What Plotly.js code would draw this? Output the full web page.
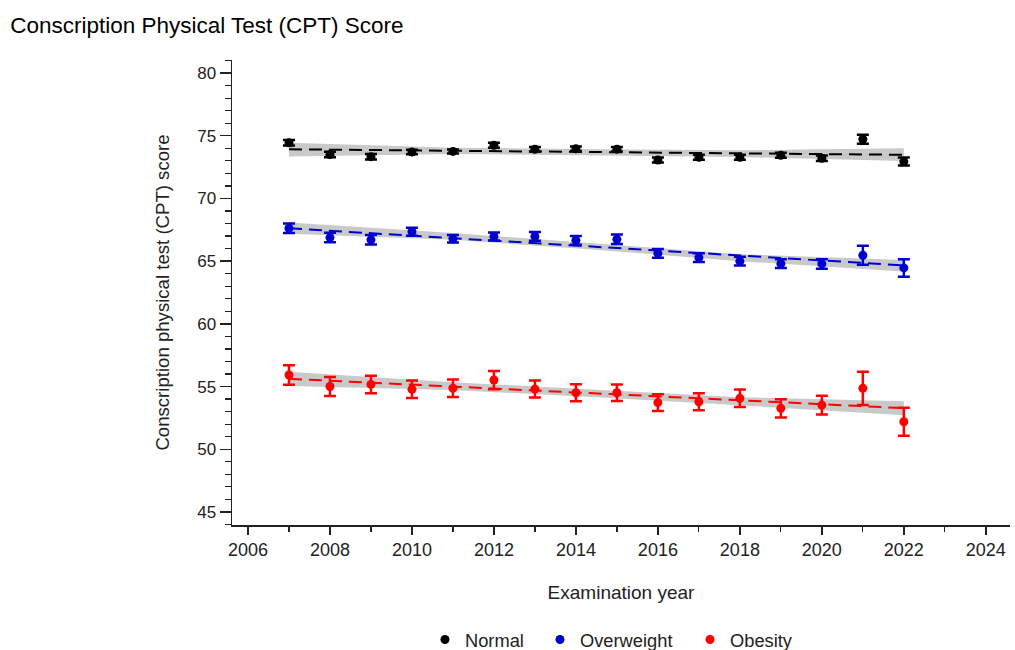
<!DOCTYPE html>
<html>
<head>
<meta charset="utf-8">
<script src="https://cdn.plot.ly/plotly-3.0.1.min.js"></script>
<style>html,body{margin:0;padding:0;background:#fff;}#chart{width:1015px;height:650px;}</style>
</head>
<body>
<div id="chart"></div>
<script>
// Examination years
const years = [2007,2008,2009,2010,2011,2012,2013,2014,2015,2016,2017,2018,2019,2020,2021,2022];

// Mean CPT scores by BMI group
const normalMean     = [74.44,73.50,73.33,73.70,73.75,74.24,73.92,73.96,73.93,73.06,73.28,73.28,73.44,73.20,74.72,72.94];
const normalErr      = [0.22,0.22,0.22,0.18,0.16,0.2,0.18,0.18,0.18,0.2,0.2,0.2,0.2,0.22,0.35,0.32];
const overweightMean = [67.62,66.88,66.70,67.35,66.78,66.97,66.97,66.66,66.74,65.62,65.28,65.00,64.80,64.78,65.47,64.46];
const overweightErr  = [0.38,0.38,0.38,0.32,0.3,0.32,0.35,0.35,0.38,0.35,0.35,0.35,0.35,0.38,0.75,0.7];
const obesityMean    = [55.92,55.00,55.17,54.78,54.86,55.52,54.80,54.51,54.51,53.72,53.79,54.06,53.26,53.52,54.86,52.19];
const obesityErr     = [0.77,0.76,0.7,0.7,0.7,0.73,0.68,0.68,0.66,0.67,0.67,0.7,0.72,0.74,1.33,1.12];

// Linear trend endpoints
const trendYears     = [2007, 2022];
const normalTrend    = [73.92, 73.48];
const overweightTrend= [67.62, 64.66];
const obesityTrend   = [55.62, 53.28];

// 95% CI band read at selected years
const bandYears      = [2007, 2011, 2014.5, 2018, 2022];
const normalUpper    = [74.45, 74.05, 73.92, 73.85, 74.0];
const normalLower    = [73.35, 73.55, 73.42, 73.3, 72.98];
const overweightUpper= [68.08, 67.25, 66.4, 65.55, 65.1];
const overweightLower= [67.18, 66.7, 65.9, 65.0, 64.18];
const obesityUpper   = [56.18, 55.35, 54.75, 54.15, 53.82];
const obesityLower   = [55.05, 54.72, 54.15, 53.5, 52.72];

const seriesNames  = ['Normal','Overweight','Obesity'];
const seriesColors = ['#000000','#0000cc','#ff0000'];

const groups = [
  {mean: normalMean, err: normalErr, trend: normalTrend, up: normalUpper, lo: normalLower},
  {mean: overweightMean, err: overweightErr, trend: overweightTrend, up: overweightUpper, lo: overweightLower},
  {mean: obesityMean, err: obesityErr, trend: obesityTrend, up: obesityUpper, lo: obesityLower}
];

const sans = '"Liberation Sans", Arial, sans-serif';
const legendIds = ['legend', 'legend2', 'legend3'];
const legendLeft = [425, 540, 690];

const traces = [];
groups.forEach((g, i) => {
  traces.push({
    x: bandYears.concat(bandYears.slice().reverse()),
    y: g.up.concat(g.lo.slice().reverse()),
    type: 'scatter', mode: 'lines', fill: 'toself',
    fillcolor: 'rgba(198,198,198,0.95)', line: {width: 0, color: 'rgba(0,0,0,0)'},
    showlegend: false, hoverinfo: 'skip'
  });
});
groups.forEach((g, i) => {
  traces.push({
    x: trendYears, y: g.trend, type: 'scatter', mode: 'lines',
    line: {color: seriesColors[i], width: 2, dash: '13px,7px'},
    showlegend: false, hoverinfo: 'skip'
  });
});
groups.forEach((g, i) => {
  traces.push({
    x: years, y: g.mean, type: 'scatter', mode: 'markers', name: seriesNames[i],
    legend: legendIds[i],
    marker: {color: seriesColors[i], size: 9},
    error_y: {type: 'data', array: g.err, visible: true, color: seriesColors[i], thickness: 2.5, width: 6}
  });
});

const layout = {
  width: 1015, height: 650,
  margin: {l: 232, r: 5, t: 60, b: 125},
  paper_bgcolor: '#fff', plot_bgcolor: '#fff',
  font: {family: sans, color: '#222', size: 18},
  title: {text: 'Conscription Physical Test (CPT) Score', x: 0.01, xanchor: 'left', y: 0.962, yanchor: 'middle',
          font: {family: sans, size: 22.5, color: '#000'}},
  xaxis: {
    range: [2005.61, 2024.59], tickmode: 'linear', tick0: 2006, dtick: 2, automargin: false,
    showgrid: false, zeroline: false, showline: true, linecolor: '#222', linewidth: 1.5,
    ticks: 'outside', ticklen: 8, tickwidth: 1.5, tickcolor: '#222',
    minor: {dtick: 1, ticks: 'outside', ticklen: 5, tickwidth: 1.2, tickcolor: '#222'},
    tickfont: {family: sans, size: 18, color: '#222'},
    title: {text: 'Examination year', standoff: 26, font: {family: sans, size: 19, color: '#222'}}
  },
  yaxis: {
    range: [43.96, 81.04], tickmode: 'linear', tick0: 45, dtick: 5, automargin: false,
    showgrid: false, zeroline: false, showline: true, linecolor: '#222', linewidth: 1.5,
    ticks: 'outside', ticklen: 11, tickwidth: 1.5, tickcolor: '#222',
    minor: {dtick: 1, ticks: 'outside', ticklen: 6, tickwidth: 1.2, tickcolor: '#222'},
    tickfont: {family: sans, size: 17, color: '#222'},
    title: {text: 'Conscription physical test (CPT) score', standoff: 22, font: {family: sans, size: 18.6, color: '#222'}}
  },
  showlegend: true
};
legendIds.forEach((id, i) => {
  layout[id] = {orientation: 'h', x: legendLeft[i] / 1015, xanchor: 'left', xref: 'container',
                y: 0.016, yanchor: 'middle', yref: 'container', bgcolor: 'rgba(0,0,0,0)',
                font: {family: sans, size: 18.3, color: '#222'}, itemwidth: 30};
});

Plotly.newPlot('chart', traces, layout, {displayModeBar: false, staticPlot: true});
</script>
</body>
</html>
